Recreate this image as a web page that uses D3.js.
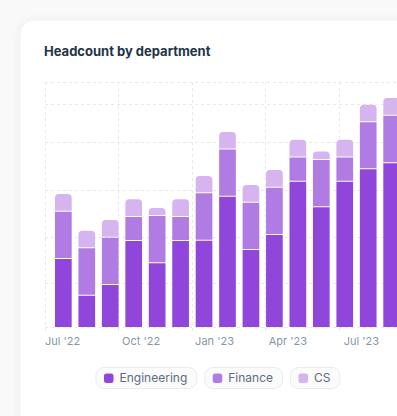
<!DOCTYPE html>
<html>
<head>
<meta charset="utf-8">
<script src="https://cdn.jsdelivr.net/npm/d3@7"></script>
<style>
  html, body { margin: 0; padding: 0; background: #f9f9fa; overflow: hidden; }
  svg { display: block; font-family: Inter, "Noto Sans", sans-serif; }
</style>
</head>
<body>
<svg id="chart" width="397" height="416"></svg>
<script>
// data
const months = ["Jul '22", "Aug '22", "Sep '22", "Oct '22", "Nov '22", "Dec '22",
  "Jan '23", "Feb '23", "Mar '23", "Apr '23", "May '23", "Jun '23",
  "Jul '23", "Aug '23", "Sep '23"];
const engineering = [29.1, 13.4, 18.0, 36.9, 27.3, 36.9, 37.0, 55.8, 33.0, 39.4, 62.3, 51.3, 62.3, 67.6, 70.2];
const finance     = [20.3, 20.3, 20.3, 10.2, 20.3, 10.2, 20.3, 20.3, 20.3, 20.3, 10.3, 20.3, 10.3, 20.1, 20.3];
const cs          = [ 7.6,  7.5,  7.6,  7.7,  3.4,  7.7,  7.4,  7.5,  7.6,  7.6,  7.6,  3.6,  7.6,  7.5,  7.6];
const yGrid = [0, 18.9, 38.6, 58.7, 79.3, 95.6, 105];
const quarterLabels = ["Jul '22", "Oct '22", "Jan '23", "Apr '23", "Jul '23"];
const series = ["Engineering", "Finance", "CS"];
const colors = ["#9146db", "#b07be3", "#d5b4ef"];

const rows = months.map((m, i) => ({month: m, Engineering: engineering[i], Finance: finance[i], CS: cs[i]}));

const svg = d3.select("#chart");
const defs = svg.append("defs");
const shadow = defs.append("filter").attr("id", "shadow")
  .attr("x", "-10%").attr("y", "-10%").attr("width", "120%").attr("height", "120%");
shadow.append("feDropShadow")
  .attr("dx", 0).attr("dy", 1).attr("stdDeviation", 4)
  .attr("flood-color", "#000").attr("flood-opacity", 0.06);

// card
svg.append("rect")
  .attr("x", 20).attr("y", 20).attr("width", 440).attr("height", 440)
  .attr("rx", 14)
  .attr("fill", "#fff")
  .attr("stroke", "#f0f1f3")
  .attr("filter", "url(#shadow)");

svg.append("text")
  .attr("x", 44).attr("y", 56)
  .attr("font-size", 13).attr("font-weight", 700)
  .attr("fill", "#1d3547")
  .text("Headcount by department");

const plot = {left: 45, right: 412, top: 82, bottom: 327};

const x = d3.scaleBand()
  .domain(months)
  .range([plot.left, 410])
  .paddingInner(0.288)
  .paddingOuter(0.426);

const y = d3.scaleLinear()
  .domain([0, 105])
  .range([plot.bottom, plot.top]);

const qx = d3.scaleLinear()
  .domain([0, quarterLabels.length])
  .range([plot.left, plot.right]);

// grid
const grid = svg.append("g")
  .attr("stroke", "#e7e9ed")
  .attr("stroke-dasharray", "3 3")
  .attr("stroke-width", 1);

grid.selectAll("line.h")
  .data(yGrid)
  .join("line")
    .attr("class", "h")
    .attr("x1", plot.left).attr("x2", plot.right)
    .attr("y1", d => Math.round(y(d)) + 0.5)
    .attr("y2", d => Math.round(y(d)) + 0.5);

grid.selectAll("line.v")
  .data(d3.range(quarterLabels.length + 1))
  .join("line")
    .attr("class", "v")
    .attr("x1", d => Math.round(qx(d)) + 0.5)
    .attr("x2", d => Math.round(qx(d)) + 0.5)
    .attr("y1", plot.top).attr("y2", plot.bottom + 7);

// bars
const stacked = d3.stack().keys(series)(rows);

function topRounded(x0, y0, w, h, r) {
  r = Math.min(r, h, w / 2);
  return `M${x0},${y0 + h}V${y0 + r}Q${x0},${y0} ${x0 + r},${y0}H${x0 + w - r}Q${x0 + w},${y0} ${x0 + w},${y0 + r}V${y0 + h}Z`;
}

const layers = svg.append("g")
  .selectAll("g")
  .data(stacked)
  .join("g")
    .attr("fill", (d, i) => colors[i]);

layers.selectAll("path")
  .data((d, li) => d.map(s => ({s, li})))
  .join("path")
    .attr("d", ({s, li}) => {
      const x0 = x(s.data.month);
      const yTop = y(s[1]);
      const yBot = y(s[0]) - (li > 0 ? 1 : 0);
      const r = li === series.length - 1 ? 4 : 0;
      return topRounded(x0, yTop, x.bandwidth(), yBot - yTop, r);
    });

// x labels
svg.append("g")
  .attr("font-size", 11)
  .attr("fill", "#8797a6")
  .selectAll("text")
  .data(quarterLabels)
  .join("text")
    .attr("x", (d, i) => i === 0 ? plot.left : qx(i + 0.31))
    .attr("y", 345)
    .attr("text-anchor", (d, i) => i === 0 ? "start" : "middle")
    .text(d => d);

// legend
const legend = svg.append("g");
const items = legend.selectAll("g")
  .data(series)
  .join("g");

items.append("text")
  .attr("font-size", 12)
  .attr("fill", "#5b6d7e")
  .attr("y", 382)
  .text(d => d);

let widths = [];
items.each(function() {
  widths.push(this.querySelector("text").getComputedTextLength());
});
const pillW = widths.map(w => 8 + 10 + 6 + w + 9);
const gap = 8;
const total = d3.sum(pillW) + gap * (series.length - 1);
let cx = 217.5 - total / 2;
const offsets = pillW.map(w => { const o = cx; cx += w + gap; return o; });

items.attr("transform", (d, i) => `translate(${offsets[i]},0)`);
items.insert("rect", "text")
  .attr("x", 0.5).attr("y", 367.5)
  .attr("width", (d, i) => pillW[i]).attr("height", 21)
  .attr("rx", 8)
  .attr("fill", "#fbfbfc")
  .attr("stroke", "#e9ecef");
items.insert("rect", "text")
  .attr("x", 8.5).attr("y", 373.5)
  .attr("width", 9.5).attr("height", 9.5)
  .attr("rx", 2.5)
  .attr("fill", (d, i) => colors[i]);
items.select("text").attr("x", 24);
</script>
</body>
</html>
